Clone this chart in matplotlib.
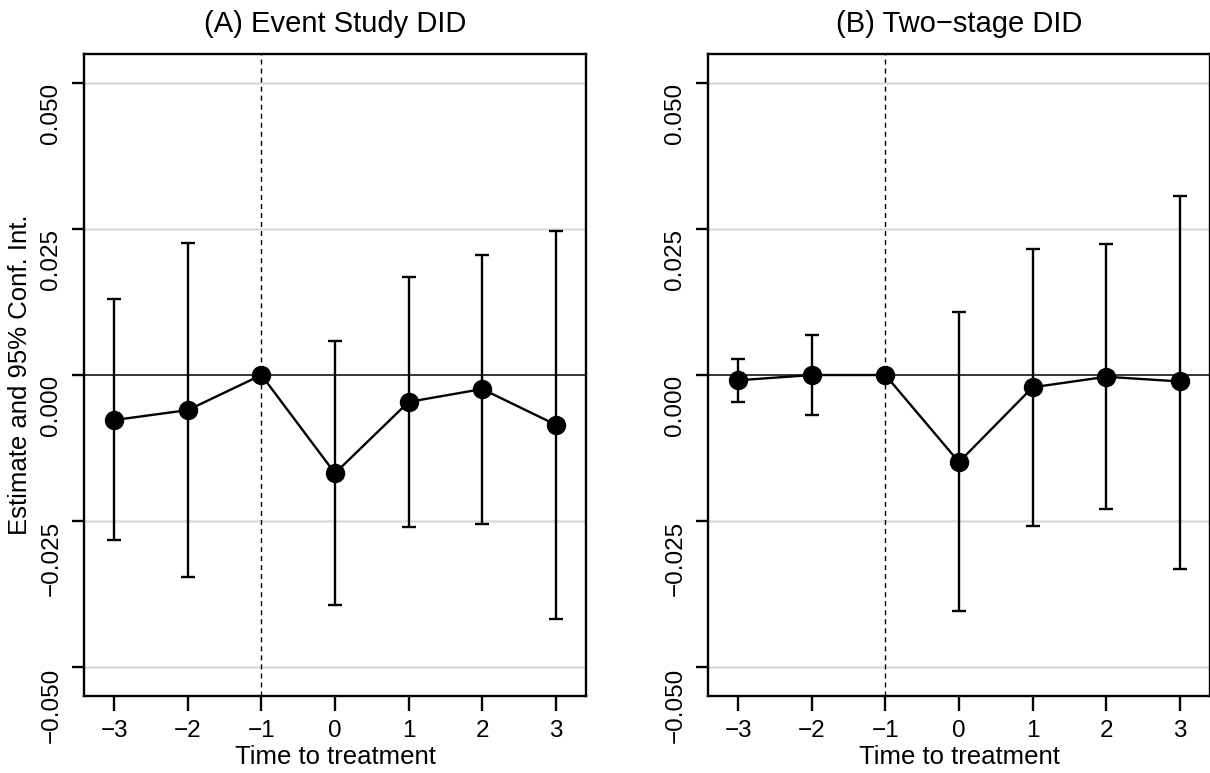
import numpy as np
import matplotlib
matplotlib.use('Agg')
import matplotlib.pyplot as plt

plt.rcParams['font.family'] = ['Liberation Sans', 'DejaVu Sans']
plt.rcParams['font.size'] = 18

# event time
periods = [-3, -2, -1, 0, 1, 2, 3]

# (A) Event Study DID
est_a = [-0.0077, -0.0060, 0.0, -0.0168, -0.0046, -0.0024, -0.0085]
lo_a = [-0.0283, -0.0346, 0.0, -0.0394, -0.0260, -0.0255, -0.0417]
hi_a = [0.0130, 0.0226, 0.0, 0.0058, 0.0167, 0.0205, 0.0247]

# (B) Two-stage DID
est_b = [-0.0009, 0.0, 0.0, -0.0149, -0.0021, -0.0003, -0.0011]
lo_b = [-0.0046, -0.0068, 0.0, -0.0404, -0.0259, -0.0230, -0.0331]
hi_b = [0.0027, 0.0069, 0.0, 0.0107, 0.0215, 0.0224, 0.0306]

titles = ['(A) Event Study DID', '(B) Two\u2212stage DID']
yticks = [-0.050, -0.025, 0.000, 0.025, 0.050]
ytick_labels = ['\u22120.050', '\u22120.025', '0.000', '0.025', '0.050']

fig = plt.figure(figsize=(12.1, 7.73), dpi=100)
ax_a = fig.add_axes([0.0694, 0.0996, 0.4149, 0.8305])
ax_b = fig.add_axes([0.5851, 0.0996, 0.4149, 0.8305])

panels = [(ax_a, est_a, lo_a, hi_a), (ax_b, est_b, lo_b, hi_b)]
for i, (ax, est, lo, hi) in enumerate(panels):
    est = np.asarray(est)
    err = [est - np.asarray(lo), np.asarray(hi) - est]
    for g in [-0.05, -0.025, 0.025, 0.05]:
        ax.axhline(g, color='#dedede', lw=1.8, zorder=0)
    ax.axhline(0, color='black', lw=1.1, zorder=1)
    ax.axvline(-1, color='black', lw=1.0, dashes=(3.6, 2.9), zorder=1)
    ax.errorbar(periods, est, yerr=err, fmt='none', ecolor='black',
                elinewidth=1.7, capsize=5, capthick=1.7, zorder=2)
    ax.plot(periods, est, color='black', lw=1.7, marker='o',
            markersize=13, zorder=3)
    ax.set_xlim(-3.41, 3.41)
    ax.set_ylim(-0.0549, 0.0549)
    ax.set_xticks(periods)
    ax.set_xticklabels([str(p).replace('-', '\u2212') for p in periods])
    ax.set_yticks(yticks)
    ax.set_yticklabels(ytick_labels, rotation=90, va='top')
    ax.tick_params(axis='x', length=10.5, width=1.7, pad=7, labelsize=17.5)
    ax.tick_params(axis='y', length=8.5, width=1.7, pad=7, labelsize=17.5)
    for s in ax.spines.values():
        s.set_linewidth(1.7)
    ax.set_title(titles[i], fontsize=21, pad=16)
    ax.set_xlabel('Time to treatment', fontsize=18.5, labelpad=2)

ax_a.set_ylabel('Estimate and 95% Conf. Int.', fontsize=18.5, labelpad=6)

fig.savefig('out.png', dpi=100)
